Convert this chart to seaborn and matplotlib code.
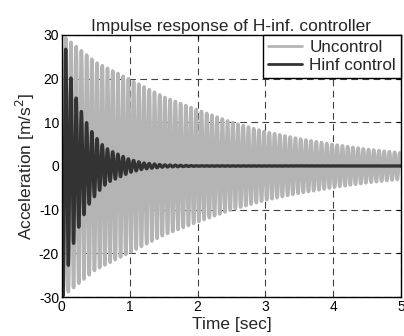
import numpy as np
import pandas as pd
import matplotlib
matplotlib.use('Agg')
import matplotlib.pyplot as plt
import seaborn as sns

# envelope of the oscillation (peak amplitude vs time)
env_time = [0, 0.5, 1, 1.5, 2, 2.5, 3, 3.5, 4, 4.5, 5]
unc_env = [30.0, 23.7, 19.8, 15.8, 12.8, 10.0, 7.8, 6.2, 4.9, 3.8, 3.0]

hinf_time = [0, 0.05, 0.1, 0.2, 0.3, 0.4, 0.5, 0.6, 0.7, 0.8, 1.0, 1.2, 1.5, 2.0, 5.0]
hinf_env = [31.0, 27.5, 22.3, 16.0, 12.0, 8.8, 6.6, 4.8, 3.6, 2.9, 1.5, 0.7, 0.25, 0.05, 0.0]

freq_hz = 13.0   # both responses oscillate at ~13 Hz (peak spacing ~0.077 s)
xticks = [0, 1, 2, 3, 4, 5]
yticks = [-30, -20, -10, 0, 10, 20, 30]

t = np.arange(0, 5.0005, 0.0005)
carrier = -np.sin(2 * np.pi * freq_hz * t)
df = pd.DataFrame({
    'time': t,
    'Uncontrol': np.interp(t, env_time, unc_env) * carrier,
    'Hinf control': np.interp(t, hinf_time, hinf_env) * carrier,
})

sns.set_style('white')
plt.rcParams['font.family'] = ['Liberation Sans', 'DejaVu Sans']
plt.rcParams['axes.unicode_minus'] = False

fig = plt.figure(figsize=(4.04, 3.36), dpi=100)
ax = fig.add_axes([0.153, 0.116, 0.840, 0.780])

sns.lineplot(data=df, x='time', y='Uncontrol', ax=ax, color='#b4b4b4',
             linewidth=2.6, estimator=None, sort=False, label='Uncontrol')
sns.lineplot(data=df, x='time', y='Hinf control', ax=ax, color='#333333',
             linewidth=2.4, estimator=None, sort=False, label='Hinf control')

ax.set_xlim(0, 5)
ax.set_ylim(-30, 30)
ax.set_xticks(xticks)
ax.set_yticks(yticks)
ax.set_xticklabels([str(v) for v in xticks])
ax.set_yticklabels([str(v) for v in yticks])
ax.tick_params(direction='in', top=True, right=True, length=3, width=0.8,
               labelsize=10, colors='black', pad=2)
ax.grid(True, color='0.25', linestyle=(0, (6, 4)), linewidth=0.8)
for s in ax.spines.values():
    s.set_color('black')
    s.set_linewidth(1.0)

ax.set_title('Impulse response of H-inf. controller', fontsize=12.5, pad=3)
ax.set_xlabel('Time [sec]', fontsize=12.5, labelpad=2)
ax.set_ylabel('Acceleration [m/s$^2$]', fontsize=12.5, labelpad=1)

leg = ax.legend(loc='upper right', fontsize=12.3, handlelength=2.0,
                borderaxespad=0, fancybox=False, framealpha=1,
                edgecolor='black', borderpad=0.3, labelspacing=0.15,
                handletextpad=0.4)
leg.get_frame().set_linewidth(1.0)
for line in leg.get_lines():
    line.set_linewidth(2.0)

fig.savefig('out.png', dpi=100)
